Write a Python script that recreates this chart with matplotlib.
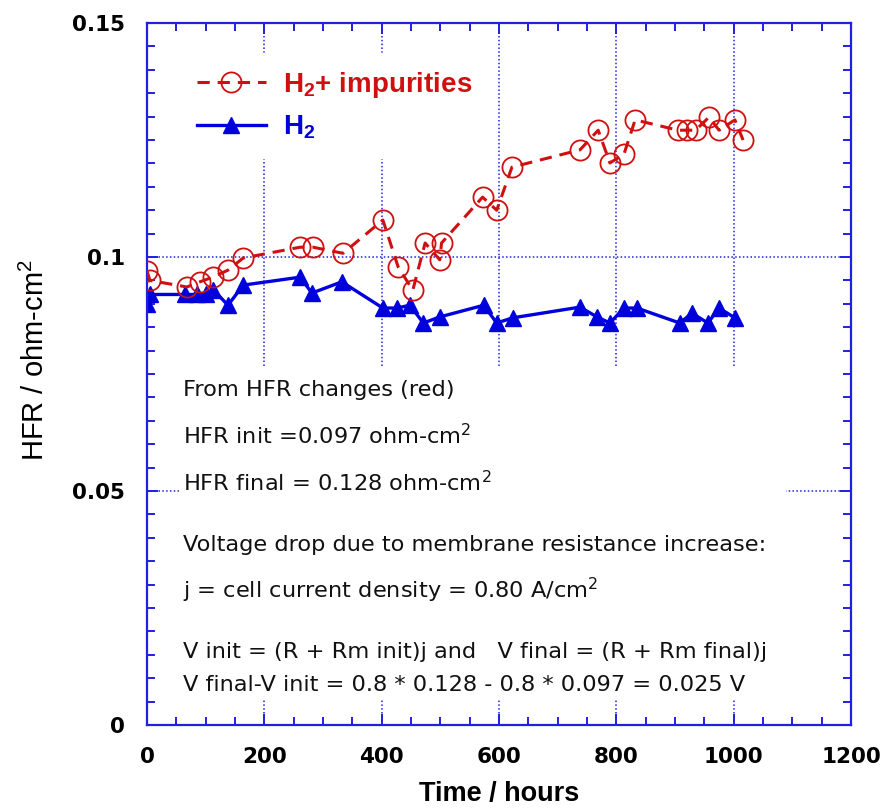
import matplotlib
matplotlib.use("Agg")
from matplotlib import pyplot as plt
from matplotlib.patches import Rectangle
from matplotlib.ticker import MultipleLocator

# H2 + impurities (red, open circles, dashed)
red_t = [0, 5, 68, 90, 112, 138, 164, 261, 283, 334, 402, 428, 453, 474,
         499, 502, 572, 596, 622, 738, 769, 789, 813, 832, 905, 920, 935,
         958, 975, 1002, 1016]
red_v = [0.097, 0.095, 0.0936, 0.0947, 0.0957, 0.0972, 0.0998, 0.1021,
         0.1021, 0.1008, 0.1079, 0.0979, 0.0929, 0.1030, 0.0994, 0.1030,
         0.1128, 0.1100, 0.1192, 0.1229, 0.1271, 0.1201, 0.1220, 0.1293,
         0.1271, 0.1271, 0.1271, 0.1299, 0.1271, 0.1293, 0.1250]

# pure H2 (blue, filled triangles)
blue_t = [0, 5, 65, 85, 100, 113, 138, 164, 261, 281, 332, 402, 426, 448,
          471, 499, 574, 596, 623, 738, 767, 789, 813, 835, 908, 929, 956,
          975, 1002]
blue_v = [0.090, 0.092, 0.092, 0.092, 0.092, 0.093, 0.0897, 0.094, 0.0957,
          0.0923, 0.0947, 0.0891, 0.0891, 0.0897, 0.0859, 0.0872, 0.0897,
          0.0859, 0.087, 0.0893, 0.0872, 0.0859, 0.0891, 0.0891, 0.0859,
          0.088, 0.0859, 0.0891, 0.087]

notes = [
    "From HFR changes (red)",
    r"HFR init =0.097 ohm-cm$^\mathregular{2}$",
    r"HFR final = 0.128 ohm-cm$^\mathregular{2}$",
    "Voltage drop due to membrane resistance increase:",
    r"j = cell current density = 0.80 A/cm$^\mathregular{2}$",
    "V init = (R + Rm init)j and   V final = (R + Rm final)j",
    "V final-V init = 0.8 * 0.128 - 0.8 * 0.097 = 0.025 V",
]
note_y = [0.477, 0.412, 0.346, 0.256, 0.192, 0.104, 0.057]

red = '#d01010'
blue = '#0000dd'
axblue = '#2020e0'

fig = plt.figure(figsize=(8.82, 8.11), dpi=100)
ax = fig.add_axes([0.1667, 0.106, 0.7982, 0.8656])

ax.plot(red_t, red_v, color=red, ls=(0, (4, 2.6)), lw=2.2, marker='o',
        ms=14.5, mfc='none', mec=red, mew=1.3,
        label=r'H$_\mathregular{2}$+ impurities', zorder=3)
ax.plot(blue_t, blue_v, color=blue, ls='-', lw=2.4, marker='^', ms=12,
        mfc=blue, mec=blue, label=r'H$_\mathregular{2}$', zorder=2)

ax.set_xlim(0, 1200)
ax.set_ylim(0, 0.15)
ax.xaxis.set_major_locator(MultipleLocator(200))
ax.xaxis.set_minor_locator(MultipleLocator(50))
ax.yaxis.set_major_locator(MultipleLocator(0.05))
ax.yaxis.set_minor_locator(MultipleLocator(0.005))
ax.set_yticks([0, 0.05, 0.1, 0.15])
ax.set_yticklabels(['0', '0.05', '0.1', '0.15'])

ax.set_axisbelow(True)
ax.grid(True, which='major', color=axblue, ls=(0, (1, 1.5)), lw=1.1)
for s in ax.spines.values():
    s.set_color(axblue)
    s.set_linewidth(1.6)
ax.tick_params(which='both', direction='in', top=True, right=True,
               color=axblue, width=1.4)
ax.tick_params(which='major', length=8)
ax.tick_params(which='minor', length=6)
ax.tick_params(axis='x', pad=16)
ax.tick_params(axis='y', pad=16)
for lab in ax.get_xticklabels() + ax.get_yticklabels():
    lab.set_fontfamily('DejaVu Sans')
    lab.set_fontweight('bold')
    lab.set_fontsize(15.5)

ax.set_xlabel('Time / hours', family='Liberation Sans', fontsize=19.5,
              fontweight='bold')
ax.xaxis.set_label_coords(0.5, -0.08)
ax.set_ylabel(r'HFR / ohm-cm$^\mathregular{2}$', family='Liberation Sans',
              fontsize=21)
ax.yaxis.set_label_coords(-0.138, 0.52)

# white panel behind the notes
ax.add_patch(Rectangle((0.045, 0.036), 0.863, 0.474, transform=ax.transAxes,
                       facecolor='white', edgecolor='none', zorder=1))
for txt, yy in zip(notes, note_y):
    ax.text(0.051, yy, txt, transform=ax.transAxes, fontsize=16.2,
            family='DejaVu Sans', color='#111111', va='center', zorder=4)

leg = ax.legend(loc='upper left', bbox_to_anchor=(0.027, 0.977),
                frameon=True, framealpha=1, edgecolor='white',
                facecolor='white', fancybox=False, handlelength=2.5,
                handletextpad=0.6, labelspacing=0.5, borderpad=0.6,
                prop={'family': 'Liberation Sans', 'weight': 'bold',
                      'size': 20})
leg.get_texts()[0].set_color(red)
leg.get_texts()[1].set_color(blue)

fig.savefig('out.png', dpi=100)
